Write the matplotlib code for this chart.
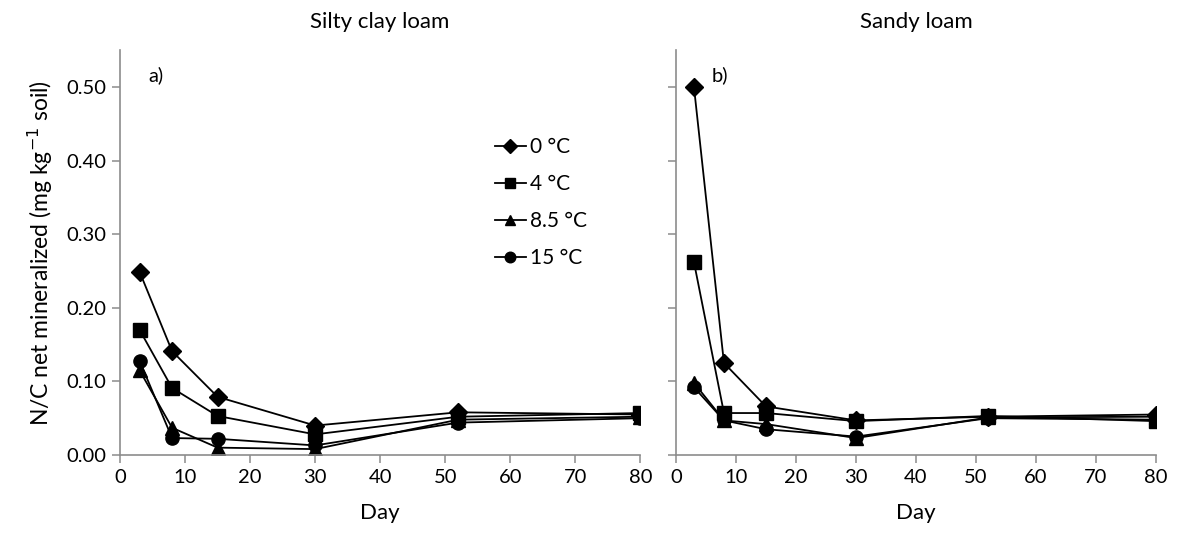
import matplotlib.pyplot as plt

plt.rcParams['font.family'] = ['Lato', 'DejaVu Sans']

days = [3, 8, 15, 30, 52, 80]
temps = ['0 °C', '4 °C', '8.5 °C', '15 °C']
markers = ['D', 's', '^', 'o']

# Silty clay loam
silty = {
    '0 °C':   [0.249, 0.141, 0.079, 0.040, 0.058, 0.055],
    '4 °C':   [0.170, 0.091, 0.053, 0.028, 0.052, 0.057],
    '8.5 °C': [0.115, 0.037, 0.010, 0.008, 0.048, 0.052],
    '15 °C':  [0.128, 0.023, 0.022, 0.013, 0.044, 0.050],
}
# Sandy loam
sandy = {
    '0 °C':   [0.500, 0.125, 0.066, 0.047, 0.052, 0.055],
    '4 °C':   [0.262, 0.057, 0.057, 0.046, 0.053, 0.046],
    '8.5 °C': [0.098, 0.047, 0.042, 0.023, 0.051, 0.052],
    '15 °C':  [0.092, 0.047, 0.035, 0.025, 0.050, 0.048],
}

fig = plt.figure(figsize=(11.77, 5.37), dpi=100)
ax_a = fig.add_axes([0.102, 0.1527, 0.442, 0.754])
ax_b = fig.add_axes([0.5743, 0.1527, 0.4079, 0.754])

for ax, data, title, tag in [(ax_a, silty, 'Silty clay loam', 'a)'),
                             (ax_b, sandy, 'Sandy loam', 'b)')]:
    for t, m in zip(temps, markers):
        ms = 9 if m == 'D' else 9.5
        ax.plot(days, data[t], color='black', marker=m, markersize=ms,
                linewidth=1.3, label=t)
    ax.set_xlim(0, 80)
    ax.set_ylim(0, 0.55)
    ax.set_xticks(range(0, 81, 10))
    ax.set_yticks([0, 0.1, 0.2, 0.3, 0.4, 0.5])
    for s in ['top', 'right']:
        ax.spines[s].set_visible(False)
    for s in ['left', 'bottom']:
        ax.spines[s].set_color('#8c8c8c')
        ax.spines[s].set_linewidth(1.2)
    ax.tick_params(direction='out', length=6, width=1.1, color='#8c8c8c',
                   labelsize=14.5, pad=4)
    ax.set_xlabel('Day', fontsize=16, labelpad=12)
    ax.set_title(title, fontsize=16, pad=16)
    ax.text(0.055 if ax is ax_a else 0.075, 0.96, tag, transform=ax.transAxes,
            fontsize=14.5, va='top')

ax_a.set_yticklabels(['0.00', '0.10', '0.20', '0.30', '0.40', '0.50'])
ax_b.set_yticklabels([])
ax_a.set_ylabel('N/C net mineralized (mg kg$^{-1}$ soil)', fontsize=16.5, labelpad=8)

ax_a.legend(loc='upper left', bbox_to_anchor=(0.72, 0.785), frameon=False,
            fontsize=15, handlelength=1.5, handletextpad=0.2, markerscale=0.8,
            labelspacing=0.82, borderaxespad=0, borderpad=0)

fig.savefig('out.png', dpi=100)
